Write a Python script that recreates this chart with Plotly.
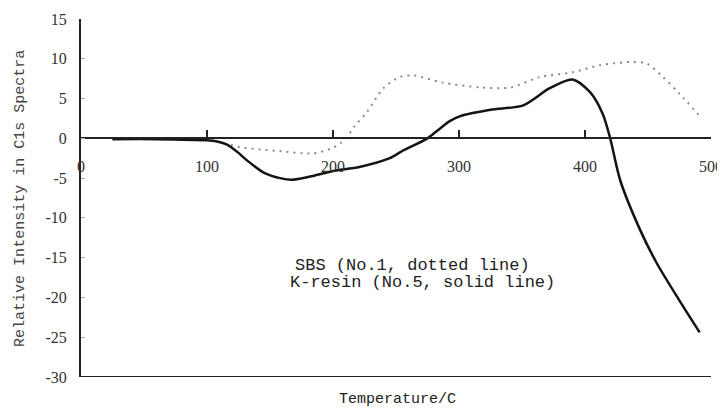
import plotly.graph_objects as go

# Temperature (C) and relative intensity values
T_sbs = [25, 60, 100, 110, 126, 142, 158, 184, 200, 206, 211, 217, 227, 240, 253, 264,
         287, 317, 341, 364, 390, 412, 437, 449, 462, 475, 490]
sbs = [-0.1, -0.1, -0.2, -0.5, -1.1, -1.4, -1.6, -1.9, -1.2, -0.6, 0.1, 1.5, 3.3, 6.3, 7.7, 7.9,
       7.0, 6.4, 6.4, 7.7, 8.3, 9.2, 9.6, 9.4, 7.7, 5.6, 3.0]

T_k = [25, 60, 100, 108, 116, 124, 132, 145, 158, 168, 185, 200, 221, 245, 256, 275, 285, 293,
       301, 325, 351, 372, 390, 404, 414, 420, 428, 444, 457, 475, 491]
kres = [-0.1, -0.1, -0.25, -0.4, -0.8, -1.7, -2.8, -4.3, -5.0, -5.2, -4.7, -4.1, -3.6, -2.5, -1.5, 0.0, 1.25, 2.2,
        2.8, 3.6, 4.15, 6.3, 7.4, 5.8, 3.1, 0.0, -5.3, -11.6, -15.7, -20.4, -24.4]

x_ticks = [0, 100, 200, 300, 400, 500]
y_ticks = [15, 10, 5, 0, -5, -10, -15, -20, -25, -30]

Y_MIN, Y_MAX = -30, 15
X_MIN, X_MAX = 0, 500

fig = go.Figure()
fig.add_trace(go.Scatter(x=T_sbs, y=sbs, mode="lines",
                         line=dict(color="#8a8a8a", width=2, dash="2px,5px", shape="spline", smoothing=0.8),
                         name="SBS", showlegend=False, hoverinfo="skip"))
fig.add_trace(go.Scatter(x=T_k, y=kres, mode="lines",
                         line=dict(color="#141414", width=2.5, shape="spline", smoothing=0.8),
                         name="K-resin", showlegend=False, hoverinfo="skip"))

# bottom frame line at y = -30
fig.add_shape(type="line", xref="x", yref="y", x0=X_MIN, x1=X_MAX, y0=Y_MIN, y1=Y_MIN,
              line=dict(color="#222", width=2))

mono = "Liberation Mono"
serif = "Liberation Serif"
fig.add_annotation(x=168.5, y=-16.0, xref="x", yref="y", text="SBS (No.1, dotted line)",
                   showarrow=False, xanchor="left", yanchor="middle",
                   font=dict(family=mono, size=17, color="#222"))
fig.add_annotation(x=164.5, y=-18.1, xref="x", yref="y", text="K-resin (No.5, solid line)",
                   showarrow=False, xanchor="left", yanchor="middle",
                   font=dict(family=mono, size=17, color="#222"))
fig.add_annotation(x=0.502, y=-0.064, xref="paper", yref="paper", text="Temperature/C",
                   showarrow=False, xanchor="center", yanchor="middle",
                   font=dict(family=mono, size=15, color="#222"))
fig.add_annotation(x=-0.097, y=0.5, xref="paper", yref="paper", text="Relative Intensity in C1s Spectra",
                   showarrow=False, xanchor="center", yanchor="middle", textangle=-90,
                   font=dict(family=mono, size=15, color="#444"))

# page body has an 8px margin, so the figure is sized to fit the 725x412 window
fig.update_layout(
    width=717, height=404,
    margin=dict(l=73, r=14, t=10.5, b=35, autoexpand=False),
    paper_bgcolor="white", plot_bgcolor="white",
    xaxis=dict(range=[X_MIN, X_MAX], tickvals=x_ticks, ticktext=[str(v) for v in x_ticks],
               anchor="free", position=(0 - Y_MIN) / (Y_MAX - Y_MIN),
               showline=True, linecolor="#222", linewidth=2,
               ticks="inside", ticklen=7, tickwidth=1.5, tickcolor="#222",
               showgrid=False, zeroline=False, ticklabelstandoff=13,
               tickfont=dict(family=serif, size=16, color="#333")),
    yaxis=dict(range=[Y_MIN, Y_MAX], tickvals=y_ticks, ticktext=[str(v) for v in y_ticks],
               showline=True, linecolor="#222", linewidth=2,
               ticks="inside", ticklen=4, tickwidth=1, tickcolor="#aaa",
               showgrid=False, zeroline=False, ticklabelstandoff=9,
               tickfont=dict(family=serif, size=16, color="#333")),
)

fig.write_html("out.html")
